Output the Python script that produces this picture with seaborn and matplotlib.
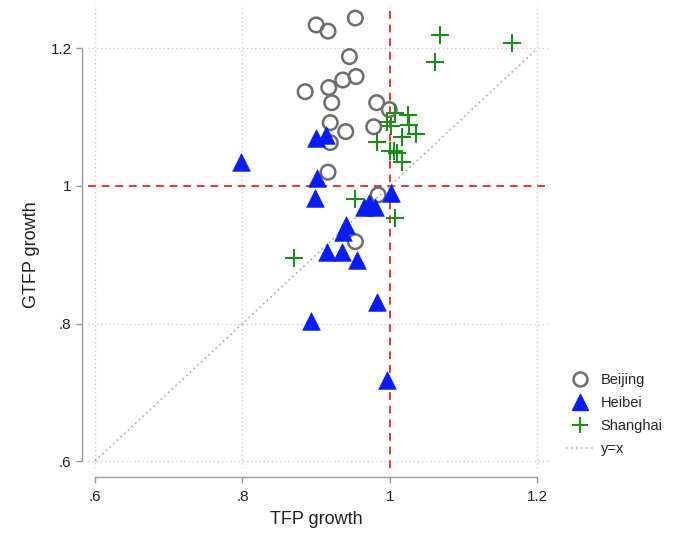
import matplotlib
matplotlib.use("Agg")
import matplotlib.pyplot as plt
import seaborn as sns
import pandas as pd
import numpy as np

# ---- data ----
beijing_tfp = [0.900, 0.916, 0.953, 0.945, 0.936, 0.954, 0.885, 0.917, 0.921,
               0.982, 0.999, 0.919, 0.978, 0.940, 0.919, 0.916, 0.984, 0.953]
beijing_gtfp = [1.234, 1.225, 1.244, 1.188, 1.154, 1.159, 1.137, 1.143, 1.121,
                1.121, 1.111, 1.092, 1.086, 1.079, 1.063, 1.020, 0.987, 0.919]

heibei_tfp = [0.798, 0.900, 0.913, 0.901, 0.898, 1.001, 0.965, 0.972, 0.980,
              0.940, 0.936, 0.915, 0.935, 0.955, 0.982, 0.893, 0.996]
heibei_gtfp = [1.035, 1.070, 1.074, 1.012, 0.983, 0.990, 0.969, 0.975, 0.969,
               0.943, 0.933, 0.904, 0.904, 0.892, 0.831, 0.804, 0.718]

shanghai_tfp = [1.068, 1.165, 1.061, 1.007, 1.024, 0.996, 1.001, 1.026, 1.016,
                1.035, 0.982, 1.000, 1.005, 1.009, 1.016, 0.953, 1.007, 0.870]
shanghai_gtfp = [1.220, 1.208, 1.180, 1.106, 1.103, 1.093, 1.087, 1.089, 1.071,
                 1.076, 1.064, 1.051, 1.051, 1.048, 1.035, 0.981, 0.953, 0.895]

ticks = [0.6, 0.8, 1.0, 1.2]
tick_labels = [".6", ".8", "1", "1.2"]
diag = [0.6, 1.2]

df_b = pd.DataFrame({"TFP": beijing_tfp, "GTFP": beijing_gtfp})
df_h = pd.DataFrame({"TFP": heibei_tfp, "GTFP": heibei_gtfp})
df_s = pd.DataFrame({"TFP": shanghai_tfp, "GTFP": shanghai_gtfp})

sns.set_theme(style="white")
plt.rcParams["font.family"] = ["Liberation Sans", "DejaVu Sans"]

W, H = 673, 533
fig = plt.figure(figsize=(W / 100, H / 100), dpi=100)
L, R, T, B = 88, 550, 5, 468
ax = fig.add_axes([L / W, 1 - B / H, (R - L) / W, (B - T) / H])

# grid
for t in ticks:
    if t != 1.0:
        ax.axvline(t, color="#cccccc", ls=(0, (1, 2)), lw=1, zorder=0)
        ax.axhline(t, color="#cccccc", ls=(0, (1, 2)), lw=1, zorder=0)

# y = x
ax.plot(diag, diag, color="#aaaaaa", ls=(0, (1, 2)), lw=1.2, zorder=1, label=None)
# red reference lines
ax.axvline(1.0, color="#ee3333", ls=(0, (4, 3)), lw=1.4, zorder=1)
ax.axhline(1.0, color="#ee3333", ls=(0, (4, 3)), lw=1.4, zorder=1)

sns.scatterplot(data=df_b, x="TFP", y="GTFP", ax=ax, marker="o", s=110,
                facecolors="none", edgecolor="#6e6e6e", linewidth=1.8, zorder=3)
sns.scatterplot(data=df_h, x="TFP", y="GTFP", ax=ax, marker="^", s=160,
                color="#0a1cf5", edgecolor="#0a1cf5", linewidth=0.5, zorder=3)
sns.scatterplot(data=df_s, x="TFP", y="GTFP", ax=ax, marker="+", s=150,
                color="#1e8c1e", linewidth=1.5, zorder=3)

ax.set_xlim(0.5905, 1.217)
ax.set_ylim(0.590, 1.263)
ax.set_xticks(ticks)
ax.set_xticklabels(tick_labels)
ax.set_yticks(ticks)
ax.set_yticklabels(tick_labels)

for side in ["top", "right"]:
    ax.spines[side].set_visible(False)
ax.spines["left"].set_position(("outward", 4.3))
ax.spines["bottom"].set_position(("outward", 6.5))
ax.spines["left"].set_bounds(0.6, 1.2)
ax.spines["bottom"].set_bounds(0.6, 1.2)
for sp in ["left", "bottom"]:
    ax.spines[sp].set_color("#9a9a9a")
    ax.spines[sp].set_linewidth(1.0)
ax.tick_params(axis="both", which="major", direction="out", length=4.5, width=1.0,
               color="#9a9a9a", labelsize=11, labelcolor="#222222", pad=3,
               left=True, bottom=True)
ax.tick_params(axis="x", pad=5)

ax.set_xlabel("TFP growth", fontsize=13, color="#222222")
ax.set_ylabel("GTFP growth", fontsize=13, color="#222222")
ax.xaxis.set_label_coords((316 - L) / (R - L), (B - 511) / (B - T))
ax.yaxis.set_label_coords((40 - L) / (R - L), (B - 255) / (B - T))

from matplotlib.lines import Line2D
handles = [
    Line2D([], [], marker="o", ls="none", markersize=10, markerfacecolor="none",
           markeredgecolor="#6e6e6e", markeredgewidth=1.8),
    Line2D([], [], marker="^", ls="none", markersize=11.5, color="#0a1cf5"),
    Line2D([], [], marker="+", ls="none", markersize=11, color="#1e8c1e",
           markeredgewidth=1.5),
    Line2D([], [], color="#aaaaaa", ls=(0, (1, 2)), lw=1.2),
]
labels = ["Beijing", "Heibei", "Shanghai", "y=x"]
fig.legend(handles, labels, loc="upper left", bbox_to_anchor=(560 / W, 1 - 367 / H),
           frameon=False, fontsize=10.5, handlelength=2.0, handletextpad=0.4,
           labelspacing=0.62, borderaxespad=0)

fig.savefig("out.png", dpi=100)
